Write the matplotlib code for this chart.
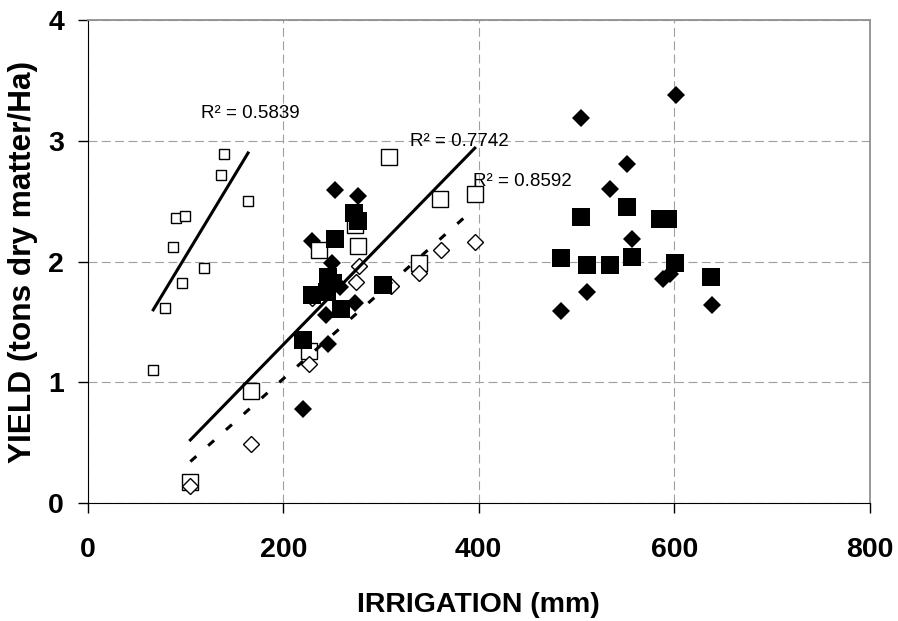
import numpy as np
import matplotlib
matplotlib.use('Agg')
import matplotlib.pyplot as plt

# small open squares (left group)
a_x = [67, 79, 87, 90, 96, 100, 119, 136, 139, 164]
a_y = [1.10, 1.62, 2.12, 2.36, 1.82, 2.38, 1.95, 2.72, 2.89, 2.50]

# large open squares
b_x = [105, 167, 226, 237, 273, 277, 308, 339, 360, 396]
b_y = [0.18, 0.93, 1.26, 2.10, 2.30, 2.13, 2.87, 1.99, 2.52, 2.56]

# open diamonds (one sits under a filled square)
c_x = [105, 167, 226, 229, 274, 278, 310, 339, 361, 396]
c_y = [0.14, 0.49, 1.15, 1.70, 1.83, 1.96, 1.80, 1.91, 2.10, 2.16]

# filled squares
d_x = [220, 229, 245, 246, 251, 253, 259, 272, 277, 302,
       484, 505, 511, 534, 552, 557, 585, 594, 601, 638]
d_y = [1.35, 1.72, 1.75, 1.87, 1.82, 2.19, 1.61, 2.40, 2.34, 1.81,
       2.03, 2.37, 1.97, 1.97, 2.45, 2.04, 2.35, 2.35, 1.99, 1.87]

# filled diamonds
e_x = [220, 229, 244, 246, 250, 253, 258, 273, 277,
       484, 505, 511, 534, 552, 557, 589, 596, 602, 639]
e_y = [0.78, 2.17, 1.56, 1.32, 1.99, 2.59, 1.79, 1.66, 2.54,
       1.59, 3.19, 1.75, 2.60, 2.81, 2.19, 1.86, 1.90, 3.38, 1.64]

r2_labels = ['R\u00b2 = 0.5839', 'R\u00b2 = 0.7742', 'R\u00b2 = 0.8592']
r2_pos = [(116, 3.19), (330, 2.96), (394, 2.63)]

x_ticks = [0, 200, 400, 600, 800]
y_ticks = [0, 1, 2, 3, 4]

plt.rcParams['font.family'] = ['Liberation Sans', 'DejaVu Sans']


def trend(ax, xs, ys, **kw):
    k, b = np.polyfit(xs, ys, 1)
    xx = np.array([min(xs), max(xs)])
    ax.plot(xx, k * xx + b, color='k', lw=2.2, zorder=6, **kw)


fig = plt.figure(figsize=(8.98, 6.21), dpi=100)
ax = fig.add_axes([0.0977, 0.1895, 0.8708, 0.7783])

ax.plot(e_x, e_y, 'D', ms=9.4, mfc='k', mec='k', mew=0, zorder=2)
ax.plot(b_x, b_y, 's', ms=11.3, mfc='white', mec='k', mew=1.0, zorder=3)
ax.plot(c_x, c_y, 'D', ms=8.0, mfc='white', mec='k', mew=1.0, zorder=4)
ax.plot(d_x, d_y, 's', ms=13.6, mfc='k', mec='k', mew=0, zorder=5)
ax.plot(a_x, a_y, 's', ms=7.4, mfc='white', mec='k', mew=1.0, zorder=4)

trend(ax, a_x, a_y)
trend(ax, b_x, b_y)
trend(ax, c_x, c_y, ls=(0, (2.6, 5.2)), solid_capstyle='butt', dash_capstyle='butt')

for txt, (tx, ty) in zip(r2_labels, r2_pos):
    ax.text(tx, ty, txt, fontsize=13.5, ha='left', va='baseline', zorder=7)

ax.set_xlim(0, 800)
ax.set_ylim(0, 4)
ax.set_xticks(x_ticks)
ax.set_yticks(y_ticks)
ax.tick_params(axis='both', direction='out', length=7, width=1, labelsize=20.5)
ax.tick_params(axis='x', pad=17)
ax.tick_params(axis='y', pad=10)
for lab in ax.get_xticklabels() + ax.get_yticklabels():
    lab.set_fontweight('bold')

ax.grid(True, color='#a0a0a0', lw=0.8, ls=(0, (8, 4)), zorder=0)
ax.set_axisbelow(True)
ax.spines['top'].set_color('#909090')
ax.spines['right'].set_color('#909090')
ax.spines['top'].set_linewidth(1.3)
ax.spines['right'].set_linewidth(1.3)

ax.set_xlabel('IRRIGATION (mm)', fontsize=20.5, fontweight='bold')
ax.set_ylabel('YIELD (tons dry matter/Ha)', fontsize=22.8, fontweight='bold')
ax.xaxis.set_label_coords(0.5, -0.183)
ax.yaxis.set_label_coords(-0.064, 0.5)

fig.savefig('out.png', dpi=100)
